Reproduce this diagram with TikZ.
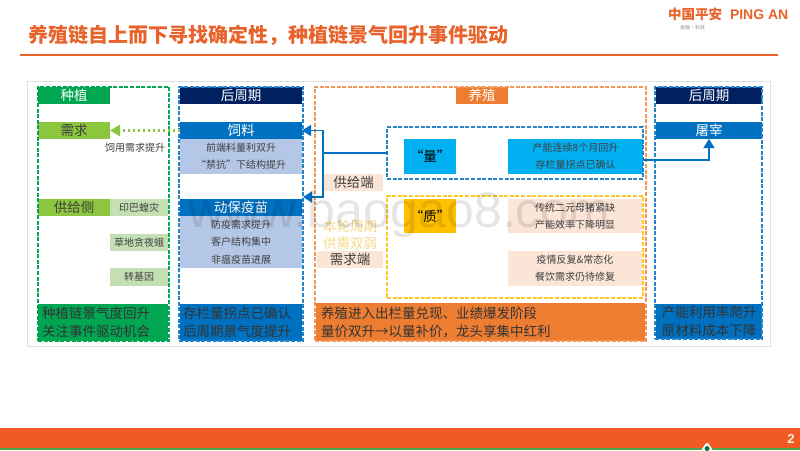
\documentclass[tikz,border=0pt]{standalone}
\usepackage{fontspec}
\setmainfont{Noto Sans CJK SC}
\newfontfamily\latinfont{Liberation Sans}
\usetikzlibrary{arrows.meta}
\definecolor{titleorange}{HTML}{E8632B}
\definecolor{footorange}{HTML}{F15A22}
\definecolor{plantgreen}{HTML}{00A651}
\definecolor{leafgreen}{HTML}{8CC63F}
\definecolor{palegreen}{HTML}{C5DFB4}
\definecolor{navy}{HTML}{002060}
\definecolor{midblue}{HTML}{0070C0}
\definecolor{paleblue}{HTML}{B4C7E7}
\definecolor{skyblue}{HTML}{00B0F0}
\definecolor{farmorange}{HTML}{ED7D31}
\definecolor{paleorange}{HTML}{FBE5D6}
\definecolor{amber}{HTML}{FFC000}
\definecolor{softgold}{HTML}{F5D98A}
\definecolor{inkgrey}{HTML}{404040}

\begin{document}
\begin{tikzpicture}[x=1pt,y=-1pt,
  wh/.style 2 args={minimum width=#1pt,minimum height=#2pt},
  box/.style={rectangle,inner sep=0pt,outer sep=0pt,anchor=north west,align=center},
  head node/.style={box,text=white,font={\fontsize{13.5}{17}\selectfont}},
  side node/.style={box,text=inkgrey,font={\fontsize{13.5}{17}\selectfont}},
  small node/.style={box,text=inkgrey,font={\fontsize{10}{17.3}\selectfont}},
  foot node/.style={box,align=left,text=black!80,font={\fontsize{13.5}{18}\selectfont}},
  frame node/.style={box,draw,line width=1.3pt,dash pattern=on 4pt off 1.6pt},
  link/.style={draw=midblue,line width=1.4pt,-{Triangle[length=9pt,width=11pt]}}]

  \useasboundingbox (0,0) rectangle (800,450);
  \fill[white] (0,0) rectangle (800,450);

  % title and logo
  \node[box,anchor=west,text=titleorange,font={\fontsize{20}{24}\selectfont\bfseries}] (title) at (28,35) {养殖链自上而下寻找确定性，种植链景气回升事件驱动};
  \draw[titleorange,line width=1.5pt] (20,55) -- (778,55);
  \node[box,anchor=west,text=titleorange,font={\fontsize{13.5}{16}\selectfont\bfseries}] (logocn) at (668,14.5) {中国平安};
  \node[box,anchor=west,text=titleorange,font={\fontsize{14}{16}\latinfont\bfseries}] (logoen) at (730,14.5) {PING AN};
  \node[box,anchor=west,text=black!45,font={\fontsize{5}{6}\selectfont}] (logosub) at (680,28) {金融·科技};

  % panel
  \draw[black!12,line width=1pt] (27,81) rectangle (770,346);

  % plant
  \node[head node,wh={72}{17},fill=plantgreen] (plant) at (38,87) {种植};
  \node[side node,wh={72}{17},fill=leafgreen] (demand) at (38,122) {需求};
  \node[small node,anchor=center] (feeduse) at (135,148) {饲用需求提升};
  \node[side node,wh={72}{17},fill=leafgreen] (supply) at (38,199) {供给侧};
  \node[small node,wh={58}{17},fill=palegreen] (locust) at (110,199) {印巴蝗灾};
  \node[small node,wh={58}{17},fill=palegreen] (armyworm) at (110,234) {草地贪夜蛾};
  \node[small node,wh={58}{18},fill=palegreen] (transgene) at (110,268) {转基因};
  \node[foot node,wh={130}{37},fill=plantgreen,text width=122pt] (plantfoot) at (38,304) {种植链景气度回升\\关注事件驱动机会};

  % downstream of farming
  \node[head node,wh={122}{17},fill=navy] (rear) at (180,87) {后周期};
  \node[head node,wh={122}{17},fill=midblue] (feed) at (180,122) {饲料};
  \node[small node,wh={122}{35},fill=paleblue] (feedtext) at (180,139) {前端料量利双升\\“禁抗”下结构提升};
  \node[head node,wh={122}{17},fill=midblue] (vaccine) at (180,199) {动保疫苗};
  \node[small node,wh={122}{52},fill=paleblue] (vaccinetext) at (180,216) {防疫需求提升\\客户结构集中\\非瘟疫苗进展};
  \node[foot node,wh={122}{37},fill=midblue,text width=116pt] (rearfoot) at (180,304) {存栏量拐点已确认\\后周期景气度提升};

  % farming
  \node[head node,wh={52}{17},fill=farmorange] (farm) at (456,87) {养殖};
  \node[box,wh={52}{35},fill=skyblue,font={\fontsize{13.5}{17}\selectfont}] (qtyhead) at (404,139) {“量”};
  \node[small node,wh={135}{35},fill=skyblue] (qtytext) at (508,139) {产能连续8个月回升\\存栏量拐点已确认};
  \node[side node,wh={59}{17},fill=paleorange] (supplyend) at (324,174) {供给端};
  \node[box,anchor=center,text=softgold,font={\fontsize{13.5}{17}\selectfont}] (weak) at (350,234.5) {本轮周期\\供需双弱};
  \node[side node,wh={66}{17},fill=paleorange] (demandend) at (317,251) {需求端};
  \node[box,wh={52}{34},fill=amber,font={\fontsize{13.5}{17}\selectfont}] (qualhead) at (404,199) {“质”};
  \node[small node,wh={134}{34},fill=paleorange] (sowtext) at (508,199) {传统二元母猪紧缺\\产能效率下降明显};
  \node[small node,wh={134}{35},fill=paleorange] (cateringtext) at (508,251) {疫情反复\&常态化\\餐饮需求仍待修复};
  \node[foot node,wh={329}{38},fill=farmorange,text width=319pt] (farmfoot) at (316,303) {养殖进入出栏量兑现、业绩爆发阶段\\量价双升→以量补价，龙头享集中红利};

  % slaughter
  \node[head node,wh={106}{17},fill=navy] (rearright) at (656,87) {后周期};
  \node[head node,wh={106}{17},fill=midblue] (slaughter) at (656,122) {屠宰};
  \node[foot node,wh={106}{35},fill=midblue,align=center] (rightfoot) at (656,304) {产能利用率爬升\\原材料成本下降};

  % dashed frames
  \node[frame node,wh={131}{254},draw=plantgreen] (plantframe) at (38,87) {};
  \node[frame node,wh={124}{254},draw=midblue!85] (rearframe) at (179,87) {};
  \node[frame node,wh={331}{254},draw=farmorange!80] (farmframe) at (315,87) {};
  \node[frame node,wh={107}{252},draw=midblue!85] (rightframe) at (655,87) {};
  \node[frame node,wh={256}{52},draw=midblue!85] (qtyframe) at (387,127) {};
  \node[frame node,wh={256}{102},draw=amber!85] (qualframe) at (387,196) {};

  % connectors
  \coordinate (split) at (323,153);
  \coordinate (vaccinein) at (303,197);
  \coordinate (qtyout) at (643,160);
  \draw[midblue,line width=1.4pt] (qtyframe.west) -- (split);
  \path[link] (split) |- (feed.east);
  \path[link] (split) |- (vaccinein);
  \path[link] (qtyout) -| (slaughter.south);
  \draw[leafgreen,line width=2.5pt,dash pattern=on 2.5pt off 2.5pt,-{Triangle[length=10pt,width=11pt]}] (feed.west) -- (demand.east);

  % watermark
  \node[box,anchor=base west,text=black,text opacity=0.1,font={\fontsize{50}{50}\latinfont}] (mark) at (188,227) {www.baogao8.com};

  % footer
  \fill[footorange] (0,428) rectangle (800,448);
  \fill[black!50!green!70] (0,448) rectangle (800,450);
  \fill[white,rounded corners=2pt] (701,450) -- (707,442) -- (713,450) -- cycle;
  \fill[plantgreen!70!black] (707,448.5) circle (2.5);
  \node[box,anchor=center,text=white!90!orange,font={\fontsize{13}{15}\latinfont\bfseries}] (page) at (791,439) {2};
\end{tikzpicture}
\end{document}
